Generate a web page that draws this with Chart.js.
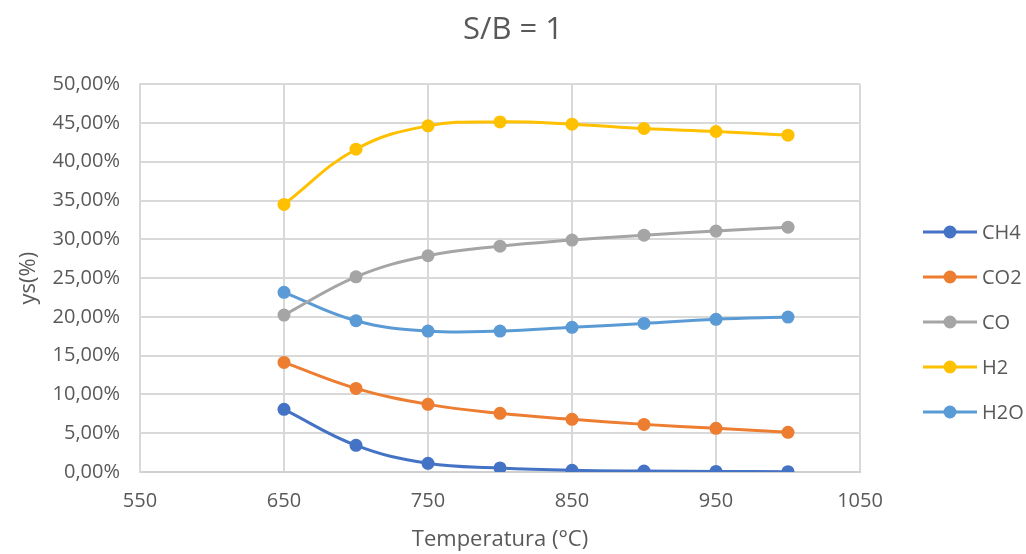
<!DOCTYPE html>
<html>
<head>
<meta charset="utf-8">
<script src="https://cdn.jsdelivr.net/npm/chart.js@4.4.0/dist/chart.umd.min.js"></script>
<style>
  body { margin: 0; background: #fff; }
  #wrap { width: 1026px; height: 554px; }
</style>
</head>
<body>
<div id="wrap"><canvas id="chart"></canvas></div>
<script>
// Temperatura (°C)
const temps = [650, 700, 750, 800, 850, 900, 950, 1000];

// ys (%) per component
const ch4 = [8.08, 3.44, 1.12, 0.52, 0.22, 0.12, 0.07, 0.04];
const co2 = [14.13, 10.78, 8.72, 7.56, 6.79, 6.14, 5.63, 5.11];
const co  = [20.23, 25.17, 27.88, 29.12, 29.90, 30.54, 31.06, 31.57];
const h2  = [34.50, 41.62, 44.63, 45.14, 44.85, 44.29, 43.90, 43.43];
const h2o = [23.16, 19.50, 18.17, 18.17, 18.65, 19.16, 19.68, 19.97];

const seriesNames = ['CH4', 'CO2', 'CO', 'H2', 'H2O'];
const seriesValues = [ch4, co2, co, h2, h2o];
const seriesColors = ['#4472C4', '#ED7D31', '#A5A5A5', '#FFC000', '#5B9BD5'];

const FONT = "'Open Sans', sans-serif";
const TXT = '#595959';

function toPoints(vals) {
  return vals.map((v, i) => ({ x: temps[i], y: v }));
}

const datasets = seriesNames.map((name, i) => ({
  label: name,
  data: toPoints(seriesValues[i]),
  borderColor: seriesColors[i],
  backgroundColor: seriesColors[i],
  borderWidth: 3,
  pointRadius: 6.5,
  pointBorderWidth: 0,
  tension: 0.4
}));

// legend on the right: line with a dot, like the original
const sideLegend = {
  id: 'sideLegend',
  afterDraw(chart) {
    const ctx = chart.ctx;
    ctx.save();
    chart.data.datasets.forEach((ds, i) => {
      const y = 232 + i * 45;
      ctx.strokeStyle = ds.borderColor;
      ctx.lineWidth = 3;
      ctx.beginPath();
      ctx.moveTo(923, y);
      ctx.lineTo(977, y);
      ctx.stroke();
      ctx.fillStyle = ds.borderColor;
      ctx.beginPath();
      ctx.arc(950, y, 6.5, 0, Math.PI * 2);
      ctx.fill();
      ctx.fillStyle = TXT;
      ctx.font = '20px ' + FONT;
      ctx.textBaseline = 'middle';
      ctx.fillText(ds.label, 982, y + 1);
    });
    ctx.restore();
  }
};

new Chart(document.getElementById('chart'), {
  type: 'line',
  data: { datasets: datasets },
  plugins: [sideLegend],
  options: {
    responsive: true,
    maintainAspectRatio: false,
    animation: false,
    layout: { padding: 0 },
    plugins: {
      legend: { display: false },
      tooltip: { enabled: false },
      title: {
        display: true,
        text: 'S/B = 1',
        color: TXT,
        font: { family: FONT, size: 31, weight: 'normal' },
        padding: { top: 12, bottom: 35 }
      }
    },
    scales: {
      x: {
        type: 'linear',
        min: 550,
        max: 1050,
        afterFit(s) { s.height = 82; },
        ticks: {
          stepSize: 100,
          padding: 17,
          color: TXT,
          font: { family: FONT, size: 20 },
          callback: v => String(v)
        },
        grid: { color: '#d9d9d9', lineWidth: 2, drawTicks: false },
        border: { color: '#d0d0d0', width: 2 },
        title: {
          display: true,
          text: 'Temperatura (°C)',
          color: TXT,
          font: { family: FONT, size: 22 },
          padding: { top: 0, bottom: 1 }
        }
      },
      y: {
        min: 0,
        max: 50,
        afterFit(s) { s.width = 140; },
        ticks: {
          stepSize: 5,
          padding: 20,
          color: TXT,
          font: { family: FONT, size: 20 },
          callback: v => v.toFixed(2).replace('.', ',') + '%'
        },
        grid: { color: '#d9d9d9', lineWidth: 2, drawTicks: false },
        border: { color: '#d9d9d9', width: 2 },
        title: {
          display: true,
          text: 'ys(%)',
          color: TXT,
          font: { family: FONT, size: 22 },
          padding: { top: 16, bottom: 0 }
        }
      },
      // empty box on the right that leaves room for the legend
      side: {
        position: 'right',
        afterFit(s) { s.width = 166; },
        ticks: { display: false },
        grid: { display: false, drawTicks: false },
        border: { display: false }
      }
    }
  }
});
</script>
</body>
</html>
